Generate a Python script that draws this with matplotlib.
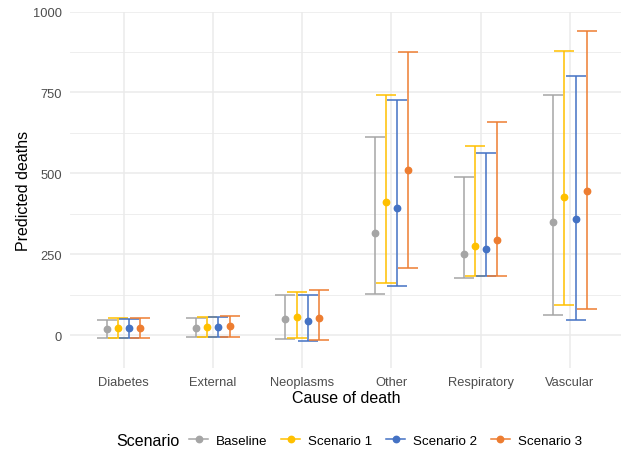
import matplotlib
matplotlib.use("Agg")
import matplotlib.pyplot as plt
from matplotlib.lines import Line2D
import numpy as np

plt.rcParams['font.family'] = ['Liberation Sans', 'DejaVu Sans']

# causes of death along the x axis
causes = ["Diabetes", "External", "Neoplasms", "Other", "Respiratory", "Vascular"]
scenarios = ["Baseline", "Scenario 1", "Scenario 2", "Scenario 3"]
colors = ["#A5A5A5", "#FFC000", "#4472C4", "#ED7D31"]

# point estimates, one list per scenario (order follows causes)
baseline_est = [19, 23, 50, 316, 250, 348]
scen1_est = [22, 25, 57, 410, 276, 426]
scen2_est = [22, 25, 43, 393, 267, 360]
scen3_est = [23, 27, 53, 510, 293, 444]

# lower interval bounds
baseline_lo = [-10, -7, -12, 127, 177, 62]
scen1_lo = [-9, -7, -9, 161, 181, 94]
scen2_lo = [-10, -7, -18, 153, 181, 46]
scen3_lo = [-9, -6, -14, 208, 183, 81]

# upper interval bounds
baseline_hi = [47, 53, 125, 611, 489, 741]
scen1_hi = [52, 57, 134, 742, 583, 879]
scen2_hi = [50, 55, 124, 725, 562, 800]
scen3_hi = [54, 59, 139, 874, 658, 941]

est = [baseline_est, scen1_est, scen2_est, scen3_est]
lo = [baseline_lo, scen1_lo, scen2_lo, scen3_lo]
hi = [baseline_hi, scen1_hi, scen2_hi, scen3_hi]

W, H = 621, 452
fig = plt.figure(figsize=(W / 100, H / 100), dpi=100)
ax = fig.add_axes([70 / W, 1 - 369 / H, 553.5 / W, (369 - 12.5) / H])

x = np.arange(len(causes))
dodge = 0.125
for i, name in enumerate(scenarios):
    xs = x + (i - 1.5) * dodge
    e = np.array(est[i])
    yerr = [e - np.array(lo[i]), np.array(hi[i]) - e]
    ax.errorbar(xs, e, yerr=yerr, fmt='none', ecolor=colors[i], elinewidth=1.1,
                capsize=7.2, capthick=1.1, zorder=3)
    ax.plot(xs, e, 'o', color=colors[i], markersize=4.6, zorder=4)

ax.set_xlim(-0.6, len(causes) - 0.4)
ax.set_ylim(-102, 1000)
ax.set_xticks(x)
ax.set_xticklabels(causes)
ax.set_yticks([0, 250, 500, 750, 1000])
ax.set_yticks([125, 375, 625, 875], minor=True)

for s in ax.spines.values():
    s.set_visible(False)
ax.tick_params(axis='both', which='both', length=0, labelsize=9.3, labelcolor='#4D4D4D')
ax.tick_params(axis='x', pad=5.5)
ax.tick_params(axis='y', pad=6)
ax.grid(True, which='major', color='#EBEBEB', linewidth=1.1, zorder=0)
ax.grid(True, which='minor', axis='y', color='#EBEBEB', linewidth=0.6, zorder=0)
ax.set_axisbelow(True)

ax.set_xlabel("Cause of death", fontsize=11.5, labelpad=2)
ax.set_ylabel("Predicted deaths", fontsize=11.5, labelpad=1)

# legend at the bottom, title on the left like ggplot
handles = [Line2D([0], [0], color=c, lw=1.1, marker='o', markersize=4.6) for c in colors]
fig.text(116 / W, 1 - 442 / H, "Scenario", fontsize=11.5, va='center', ha='left')
fig.legend(handles, scenarios, ncol=4, loc='center left',
           bbox_to_anchor=(189 / W, 1 - 442 / H), frameon=False, fontsize=9.6,
           handlelength=1.45, handletextpad=0.6, columnspacing=1.0,
           borderpad=0, borderaxespad=0)

fig.savefig("out.png", dpi=100)
